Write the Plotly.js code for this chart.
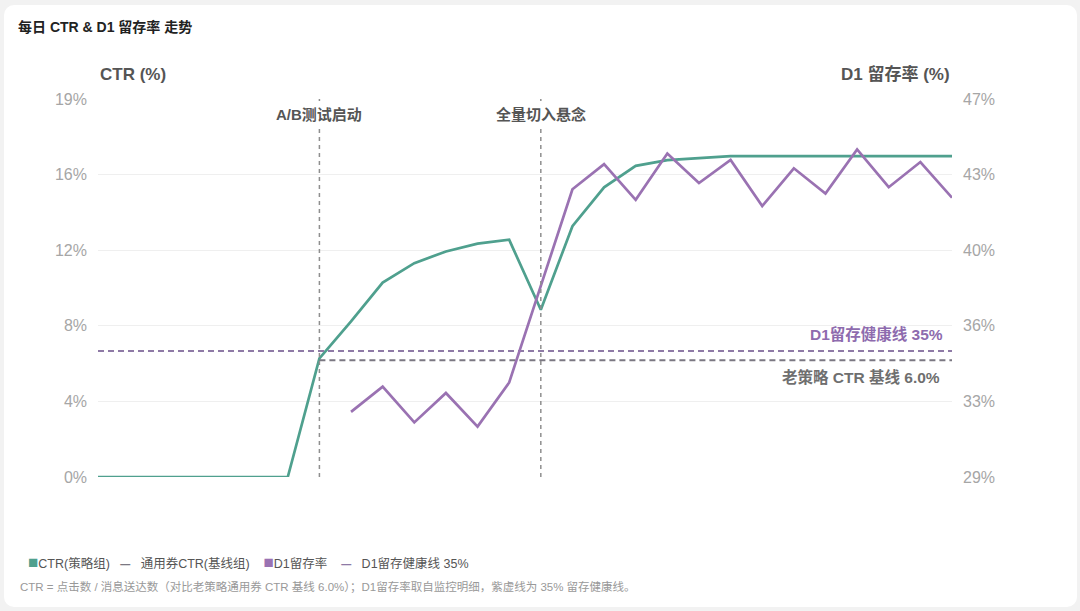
<!DOCTYPE html>
<html>
<head>
<meta charset="utf-8">
<script src="https://cdn.plot.ly/plotly-3.0.1.min.js"></script>
<style>
    html, body { margin: 0; padding: 0; background: #f2f2f2; }
    #card {
        position: absolute; left: 4px; top: 5px; width: 1073px; height: 602px;
        background: #ffffff; border-radius: 10px;
    }
    #visualisation { position: absolute; left: 0; top: 0; width: 1080px; height: 611px; }
</style>
</head>
<body>
<div id="card"></div>
<div id="visualisation"></div>
<script>
// 28 days of the experiment, x axis is hidden in the original
const days = ['第1天', '第2天', '第3天', '第4天', '第5天', '第6天', '第7天', '第8天', '第9天', '第10天',
              '第11天', '第12天', '第13天', '第14天', '第15天', '第16天', '第17天', '第18天', '第19天', '第20天',
              '第21天', '第22天', '第23天', '第24天', '第25天', '第26天', '第27天', '第28天'];

// CTR of the strategy group (%)
const ctrStrategy = [0, 0, 0, 0, 0, 0, 0, 6.1, 8.0, 10.0, 11.0, 11.6, 12.0, 12.2,
                     8.6, 12.9, 14.9, 16.0, 16.3, 16.4, 16.5, 16.5, 16.5, 16.5, 16.5, 16.5, 16.5, 16.5];

// generic coupon CTR baseline (%), only drawn once the A/B test starts
const ctrBaseline = [null, null, null, null, null, null, null, 6.0, 6.0, 6.0, 6.0, 6.0, 6.0, 6.0,
                     6.0, 6.0, 6.0, 6.0, 6.0, 6.0, 6.0, 6.0, 6.0, 6.0, 6.0, 6.0, 6.0, 6.0];

// D1 retention (%)
const d1Retention = [null, null, null, null, null, null, null, null, 32.1, 33.3, 31.6, 33.0, 31.4, 33.5,
                     38.1, 42.7, 43.9, 42.2, 44.4, 43.0, 44.1, 41.9, 43.7, 42.5, 44.6, 42.8, 44.0, 42.3];

// D1 retention health line (%)
const d1Health = [35, 35, 35, 35, 35, 35, 35, 35, 35, 35, 35, 35, 35, 35,
                  35, 35, 35, 35, 35, 35, 35, 35, 35, 35, 35, 35, 35, 35];

const seriesNames = ['CTR(策略组)', '通用券CTR(基线组)', 'D1留存率', 'D1留存健康线 35%'];

// tick labels, five even steps on each axis
const ctrTickVals = [0, 3.888, 7.776, 11.664, 15.552, 19.44];
const ctrTickText = ['0%', '4%', '8%', '12%', '16%', '19%'];
const d1TickVals = [29, 32.6, 36.2, 39.8, 43.4, 47];
const d1TickText = ['29%', '33%', '36%', '40%', '43%', '47%'];

// event markers
const eventDays = ['第8天', '第15天'];
const eventLabels = ['A/B测试启动', '全量切入悬念'];

const chartTitle = '每日 CTR & D1 留存率 走势';
const footNote = 'CTR = 点击数 / 消息送达数（对比老策略通用券 CTR 基线 6.0%）；D1留存率取自监控明细，紫虚线为 35% 留存健康线。';

window.APP = window.APP || {};

APP.colors = {
    teal: '#4fa08e',
    purple: '#9a72b2',
    purpleDash: '#8e7aa6',
    grayDash: '#7b7882',
    text: '#555555',
    tick: '#a6a6a6'
};

APP.font = '"Liberation Sans", "Noto Sans CJK SC", sans-serif';

APP.nbsp = function(n) {
    return new Array(n + 1).join('&nbsp;');
};

APP.init = function() {
    APP.graph = document.getElementById('visualisation');

    let c = APP.colors;

    let data = [{
        x: days, y: ctrStrategy, name: seriesNames[0],
        type: 'scatter', mode: 'lines', yaxis: 'y',
        line: { color: c.teal, width: 2.7 }
    }, {
        x: days, y: ctrBaseline, name: seriesNames[1],
        type: 'scatter', mode: 'lines', yaxis: 'y',
        line: { color: c.grayDash, width: 2, dash: '6px,4px' }
    }, {
        x: days, y: d1Health, name: seriesNames[3],
        type: 'scatter', mode: 'lines', yaxis: 'y2',
        line: { color: c.purpleDash, width: 2, dash: '6px,4px' }
    }, {
        x: days, y: d1Retention, name: seriesNames[2],
        type: 'scatter', mode: 'lines', yaxis: 'y2',
        line: { color: c.purple, width: 2.7 }
    }];

    // dotted event lines, the label sits on top of them with a white box
    let shapes = eventDays.map(function(d) {
        let i = days.indexOf(d);
        return {
            type: 'line', xref: 'x', yref: 'paper',
            x0: i, x1: i, y0: 0, y1: 1,
            line: { color: '#8f8f8f', width: 1.5, dash: '4px,4px' }
        };
    });

    let annotations = eventDays.map(function(d, i) {
        return {
            x: days.indexOf(d), xref: 'x', y: 0.958, yref: 'paper',
            text: '<b>' + eventLabels[i] + '</b>', showarrow: false,
            xanchor: 'center', yanchor: 'middle',
            bgcolor: '#ffffff', borderpad: 2,
            font: { family: APP.font, size: 15, color: '#555555' }
        };
    });

    // line labels on the right
    annotations.push({
        x: 0.992, xref: 'paper', y: 35, yref: 'y2', yshift: 17,
        text: '<b>D1留存健康线 35%</b>', showarrow: false,
        xanchor: 'right', yanchor: 'middle',
        font: { family: APP.font, size: 15.5, color: '#8e6bae' }
    });
    annotations.push({
        x: 0.988, xref: 'paper', y: 6.0, yref: 'y', yshift: -17,
        text: '<b>老策略 CTR 基线 6.0%</b>', showarrow: false,
        xanchor: 'right', yanchor: 'middle',
        font: { family: APP.font, size: 15.5, color: '#6f6f6f' }
    });

    // axis titles placed above the plot
    annotations.push({
        x: 0, xref: 'paper', y: 1.066, yref: 'paper',
        text: '<b>CTR (%)</b>', showarrow: false, xanchor: 'left', yanchor: 'middle',
        font: { family: APP.font, size: 17, color: '#555555' }
    });
    annotations.push({
        x: 1, xref: 'paper', y: 1.066, yref: 'paper',
        text: '<b>D1 留存率 (%)</b>', showarrow: false, xanchor: 'right', yanchor: 'middle',
        font: { family: APP.font, size: 17, color: '#555555' }
    });

    // legend row built from the series names: squares for the solid series, short dashes for the lines
    let sq = function(col) { return '<span style="color:' + col + ';font-size:17px">■</span>'; };
    let ds = function(col) {
        return '<span style="color:' + col + ';font-size:10px"><b>—</b></span>' + APP.nbsp(3);
    };
    let legendText =
        sq(c.teal) + seriesNames[0] + APP.nbsp(3) +
        ds(c.grayDash) + seriesNames[1] + APP.nbsp(4) +
        sq(c.purple) + seriesNames[2] + APP.nbsp(4) +
        ds(c.purpleDash) + seriesNames[3];

    annotations.push({
        x: (26 - 98) / 854, xref: 'paper', y: -0.2275, yref: 'paper',
        text: legendText, showarrow: false, xanchor: 'left', yanchor: 'middle',
        font: { family: APP.font, size: 12.5, color: '#555555' }
    });
    annotations.push({
        x: (18 - 98) / 854, xref: 'paper', y: -0.291, yref: 'paper',
        text: footNote, showarrow: false, xanchor: 'left', yanchor: 'middle',
        font: { family: APP.font, size: 11.5, color: '#999999' }
    });

    let layout = {
        width: 1080,
        height: 611,
        paper_bgcolor: 'rgba(0,0,0,0)',
        plot_bgcolor: 'rgba(0,0,0,0)',
        showlegend: false,
        margin: { l: 98, r: 128, t: 99, b: 134, pad: 0 },
        title: {
            text: '<b>' + chartTitle + '</b>',
            x: 18 / 1080, xanchor: 'left', xref: 'container',
            y: 1 - 27 / 611, yanchor: 'middle', yref: 'container',
            font: { family: APP.font, size: 14, color: '#222222' }
        },
        font: { family: APP.font },
        xaxis: {
            type: 'category',
            range: [0, days.length - 1],
            showgrid: false, zeroline: false, showline: false,
            showticklabels: false, ticks: ''
        },
        yaxis: {
            range: [0, 19.44],
            tickvals: ctrTickVals, ticktext: ctrTickText,
            showgrid: true, gridcolor: '#efefef', gridwidth: 1,
            zeroline: false, showline: false, ticks: '',
            ticklabelstandoff: 10,
            tickfont: { family: APP.font, size: 16, color: APP.colors.tick }
        },
        yaxis2: {
            range: [29, 47],
            overlaying: 'y', side: 'right',
            tickvals: d1TickVals, ticktext: d1TickText,
            showgrid: false, zeroline: false, showline: false, ticks: '',
            ticklabelstandoff: 10,
            tickfont: { family: APP.font, size: 16, color: APP.colors.tick }
        },
        shapes: shapes,
        annotations: annotations
    };

    Plotly.newPlot(APP.graph, data, layout, { displayModeBar: false, staticPlot: true });
};

document.addEventListener('DOMContentLoaded', APP.init);
</script>
</body>
</html>
